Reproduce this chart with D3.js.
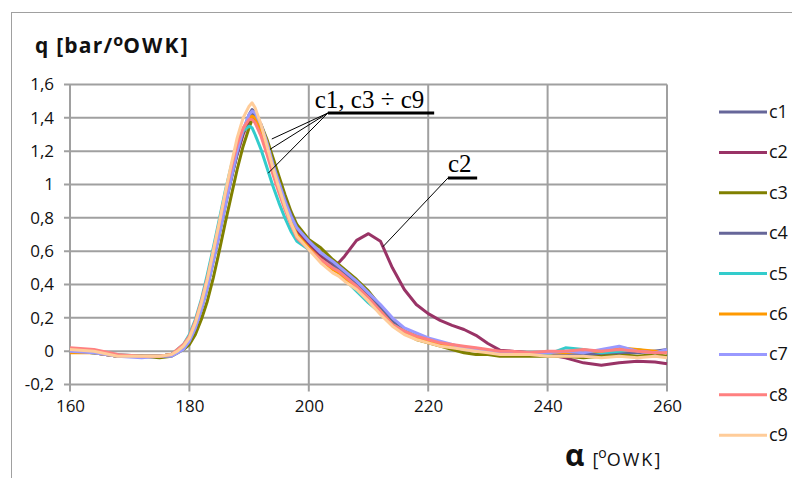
<!DOCTYPE html>
<html>
<head>
<meta charset="utf-8">
<script src="https://cdn.jsdelivr.net/npm/d3@7"></script>
<style>
  body { margin: 0; background: #fff; }
  svg { display: block; }
  .tick text { font-family: "Open Sans", sans-serif; font-size: 17px; fill: #111; }
</style>
</head>
<body>
<script>
// kąt [°OWK]
const katy = [160,164,168,172,175,177,178,179,180,181,182,183,184,185,186,187,188,189,190,190.5,
  191,192,193,194,195,196,197,198,200,202,204,205,206,208,210,212,214,216,218,220,222,
  224,226,228,230,232,234,237,240,243,246,249,252,255,258,260];

const c1 = [0.00,-0.01,-0.03,-0.03,-0.03,-0.02,0.00,0.02,0.07,0.15,
  0.26,0.39,0.55,0.71,0.88,1.04,1.19,1.31,1.40,1.43,
  1.41,1.33,1.22,1.10,0.99,0.89,0.80,0.73,0.65,0.58,
  0.52,0.49,0.46,0.40,0.33,0.25,0.17,0.12,0.09,0.07,0.05,
  0.03,0.02,0.01,0.00,-0.01,-0.02,-0.02,-0.02,-0.03,-0.03,
  -0.02,-0.01,-0.01,0.00,0.00];
const c2 = [0.01,0.00,-0.03,-0.03,-0.03,-0.02,0.00,0.02,0.07,0.15,
  0.26,0.39,0.55,0.71,0.88,1.04,1.18,1.30,1.38,1.40,
  1.38,1.31,1.21,1.09,0.98,0.88,0.79,0.72,0.64,0.57,
  0.52,0.53,0.57,0.665,0.705,0.66,0.50,0.37,0.28,0.225,0.185,
  0.155,0.13,0.095,0.046,0.006,0.00,-0.01,-0.02,-0.04,-0.07,
  -0.085,-0.07,-0.06,-0.065,-0.075];
const c3 = [0.00,-0.01,-0.03,-0.03,-0.04,-0.03,-0.01,0.01,0.04,0.10,
  0.19,0.30,0.44,0.60,0.77,0.93,1.09,1.23,1.34,1.39,
  1.40,1.36,1.27,1.16,1.05,0.94,0.84,0.76,0.67,0.62,
  0.55,0.52,0.49,0.43,0.36,0.27,0.17,0.11,0.07,0.05,0.03,
  0.01,-0.01,-0.02,-0.02,-0.03,-0.03,-0.03,-0.03,-0.03,-0.04,
  -0.03,-0.02,-0.03,-0.02,-0.03];
const c4 = [0.00,-0.01,-0.03,-0.03,-0.03,-0.02,0.00,0.02,0.06,0.14,
  0.25,0.38,0.54,0.70,0.87,1.03,1.19,1.32,1.42,1.45,
  1.43,1.35,1.24,1.12,1.01,0.91,0.82,0.74,0.66,0.59,
  0.53,0.50,0.47,0.41,0.34,0.26,0.18,0.12,0.09,0.07,0.05,
  0.03,0.02,0.01,0.00,-0.01,-0.01,-0.02,-0.02,-0.02,-0.02,
  -0.01,-0.01,0.00,0.00,0.01];
const c5 = [0.00,-0.01,-0.02,-0.03,-0.03,-0.02,0.01,0.04,0.10,0.19,
  0.31,0.46,0.62,0.79,0.96,1.11,1.23,1.32,1.35,1.34,
  1.30,1.21,1.10,0.99,0.89,0.80,0.72,0.66,0.61,0.55,
  0.50,0.47,0.43,0.36,0.29,0.23,0.16,0.12,0.09,0.07,0.05,
  0.03,0.02,0.01,0.00,-0.01,-0.02,-0.02,-0.02,0.02,0.01,
  -0.01,0.00,0.01,-0.01,0.00];
const c6 = [-0.01,-0.01,-0.03,-0.03,-0.03,-0.02,0.00,0.03,0.08,0.17,
  0.28,0.42,0.58,0.75,0.92,1.08,1.22,1.33,1.40,1.41,
  1.40,1.33,1.22,1.10,0.99,0.88,0.78,0.70,0.62,0.55,
  0.49,0.47,0.44,0.38,0.31,0.24,0.16,0.11,0.08,0.06,0.04,
  0.03,0.02,0.01,0.00,-0.01,-0.01,-0.01,-0.01,-0.01,0.00,
  0.00,0.02,0.01,0.00,-0.01];
const c7 = [0.00,-0.01,-0.03,-0.04,-0.03,-0.03,-0.01,0.01,0.06,0.14,
  0.25,0.38,0.54,0.70,0.87,1.04,1.20,1.33,1.42,1.44,
  1.43,1.36,1.25,1.12,1.01,0.90,0.81,0.74,0.66,0.59,
  0.54,0.51,0.48,0.42,0.35,0.28,0.20,0.14,0.11,0.08,0.06,
  0.04,0.02,0.01,0.00,-0.01,-0.01,-0.01,-0.01,0.00,-0.01,
  0.01,0.03,0.00,-0.01,0.01];
const c8 = [0.02,0.01,-0.02,-0.03,-0.03,-0.02,0.01,0.04,0.09,0.18,
  0.30,0.44,0.60,0.77,0.94,1.10,1.24,1.34,1.39,1.39,
  1.37,1.29,1.18,1.06,0.95,0.85,0.76,0.68,0.61,0.55,
  0.50,0.48,0.45,0.39,0.32,0.24,0.16,0.12,0.09,0.07,0.05,
  0.04,0.03,0.02,0.01,0.00,0.00,-0.01,0.00,0.00,0.01,
  0.00,0.01,0.00,-0.01,-0.01];
const c9 = [0.01,0.00,-0.03,-0.03,-0.03,-0.02,0.00,0.03,0.08,0.17,
  0.29,0.43,0.60,0.77,0.95,1.12,1.28,1.40,1.47,1.49,
  1.46,1.36,1.23,1.10,0.98,0.87,0.77,0.69,0.61,0.53,
  0.47,0.45,0.42,0.37,0.30,0.22,0.15,0.10,0.07,0.05,0.03,
  0.02,0.01,0.00,-0.01,-0.02,-0.02,-0.02,-0.03,-0.03,-0.03,
  -0.04,-0.03,-0.04,-0.03,-0.04];

const nazwy = ["c1","c2","c3","c4","c5","c6","c7","c8","c9"];
const serie = [c1,c2,c3,c4,c5,c6,c7,c8,c9];
const kolory = ["#666699","#993366","#808000","#666699","#33cccc","#ff9900","#9999ff","#ff8080","#ffcc99"];

const xTicks = [160,180,200,220,240,260];
const yTicks = [-0.2,0,0.2,0.4,0.6,0.8,1,1.2,1.4,1.6];

// opisy na wykresie (w jednostkach danych)
const opisC = { tekst: "c1, c3 ÷ c9", x: 201.0, y: 1.458, kreska: [203.2, 221.0, 1.429],
  cele: [[193.8,1.273],[193.5,1.211],[193.2,1.068]] };
const opisC2 = { tekst: "c2", x: 223.3, y: 1.075, kreska: [223.3, 228.2, 1.039],
  cele: [[212.4,0.626]] };

const W = 792, H = 478;
const svg = d3.select("body").append("svg").attr("width", W).attr("height", H);

// ramka obszaru wykresu
svg.append("rect").attr("x", 11.5).attr("y", 12.5).attr("width", 820).attr("height", 500)
  .attr("fill", "none").attr("stroke", "#a0a0a0").attr("stroke-width", 1);

const x = d3.scaleLinear().domain([160, 260]).range([70, 667]);
const y = d3.scaleLinear().domain([-0.2, 1.6]).range([384.5, 84.5]);

// siatka
svg.append("g").selectAll("line").data(yTicks).join("line")
  .attr("x1", x(160) - 6).attr("x2", x(260))
  .attr("y1", d => y(d)).attr("y2", d => y(d))
  .attr("stroke", "#a0a0a0").attr("stroke-width", 2);
svg.append("g").selectAll("line").data(xTicks).join("line")
  .attr("x1", d => x(d)).attr("x2", d => x(d))
  .attr("y1", y(1.6)).attr("y2", y(-0.2) + 7)
  .attr("stroke", "#a0a0a0").attr("stroke-width", 2);

const fmt = d => String(d).replace(".", ",");

const osY = svg.append("g").attr("transform", `translate(${x(160)},0)`)
  .call(d3.axisLeft(y).tickValues(yTicks).tickFormat(fmt).tickSize(0).tickPadding(16));
osY.select(".domain").remove();

const osX = svg.append("g").attr("transform", `translate(0,${y(-0.2)})`)
  .call(d3.axisBottom(x).tickValues(xTicks).tickFormat(d3.format("d")).tickSize(0).tickPadding(27));
osX.select(".domain").remove();
osX.selectAll(".tick text").attr("dy", "0");

// linie
const linia = d3.line().x((d, i) => x(katy[i])).y(d => y(d));
svg.append("g").selectAll("path").data(serie).join("path")
  .attr("d", linia)
  .attr("fill", "none")
  .attr("stroke", (d, i) => kolory[i])
  .attr("stroke-width", 3)
  .attr("stroke-linejoin", "round");

// opisy
[opisC, opisC2].forEach(o => {
  const g = svg.append("g");
  g.append("text").attr("x", x(o.x)).attr("y", y(o.y))
    .attr("font-family", "Liberation Serif, serif").attr("font-size", 25).attr("fill", "#000")
    .text(o.tekst);
  g.append("line").attr("x1", x(o.kreska[0])).attr("x2", x(o.kreska[1]))
    .attr("y1", y(o.kreska[2])).attr("y2", y(o.kreska[2]))
    .attr("stroke", "#000").attr("stroke-width", 3);
  o.cele.forEach(c => {
    g.append("line").attr("x1", x(o.kreska[0])).attr("y1", y(o.kreska[2]))
      .attr("x2", x(c[0])).attr("y2", y(c[1]))
      .attr("stroke", "#000").attr("stroke-width", 1);
  });
});

// tytuł osi Y
const tytul = svg.append("text").attr("x", 35).attr("y", 53)
  .attr("font-family", "Open Sans, sans-serif").attr("font-weight", "bold")
  .attr("font-size", 21).attr("fill", "#111");
tytul.append("tspan").attr("letter-spacing", 1.2).text("q [bar/");
tytul.append("tspan").attr("font-size", 16).attr("dy", -7).text("o");
tytul.append("tspan").attr("dy", 7).attr("letter-spacing", 2.2).text("OWK]");

// tytuł osi X
const tytulX = svg.append("text").attr("x", 565).attr("y", 466)
  .attr("font-family", "Open Sans, sans-serif").attr("fill", "#111");
tytulX.append("tspan").attr("font-size", 30).attr("font-weight", "bold").text("α");
tytulX.append("tspan").attr("font-size", 18).attr("dx", 8).text("[");
tytulX.append("tspan").attr("font-size", 14).attr("dy", -8).text("o");
tytulX.append("tspan").attr("font-size", 18).attr("dy", 8).attr("letter-spacing", 2).text("OWK]");

// legenda
const leg = svg.append("g").selectAll("g").data(nazwy).join("g")
  .attr("transform", (d, i) => `translate(719,${112 + i * 40.4})`);
leg.append("line").attr("x1", 0).attr("x2", 48)
  .attr("stroke", (d, i) => kolory[i]).attr("stroke-width", 3);
leg.append("text").attr("x", 50).attr("y", 6)
  .attr("font-family", "Open Sans, sans-serif").attr("font-size", 18).attr("fill", "#111")
  .text(d => d);
</script>
</body>
</html>
